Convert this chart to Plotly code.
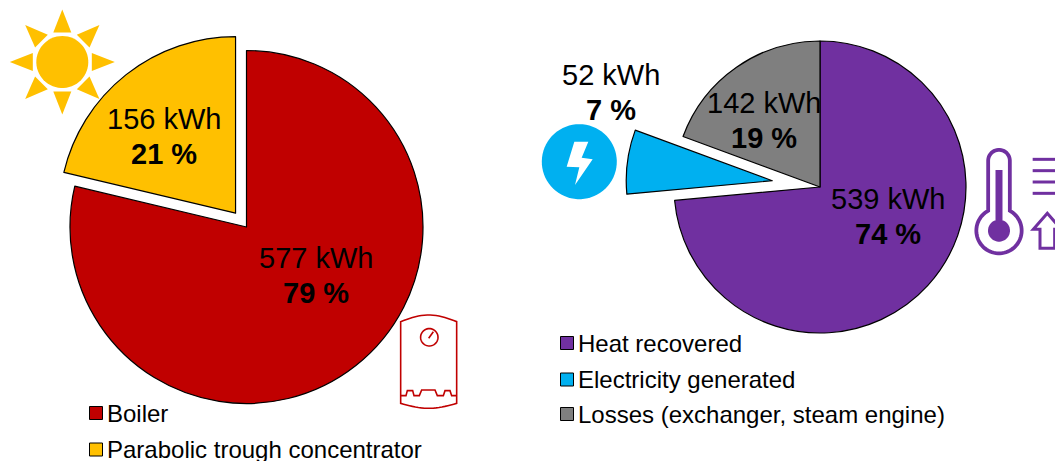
import numpy as np
import plotly.graph_objects as go

W, H = 1055, 461
FONT = "Liberation Sans, Arial, sans-serif"

# ---- data ----
left_categories = ["Boiler", "Parabolic trough concentrator"]
left_values = [577, 156]
left_colors = ["#C00000", "#FFC000"]
left_pull = [0, 0.1]

right_categories = ["Heat recovered", "Electricity generated", "Losses (exchanger, steam engine)"]
right_values = [539, 52, 142]
right_colors = ["#7030A0", "#00B0F0", "#7F7F7F"]

# ---- layout geometry (pixels) ----
LC, LR = (246.5, 227), 176.5
RC, RR = (820, 187), 146
BLUE_PULL = 0.33
CLEAR = "rgba(0,0,0,0)"


def dom(c, half):
    return dict(x=[(c[0] - half) / W, (c[0] + half) / W],
                y=[1 - (c[1] + half) / H, 1 - (c[1] - half) / H])


def px(x, y):
    return f"{x / W:.5f},{1 - y / H:.5f}"


def poly(pts, close=False):
    s = "M" + " L".join(px(x, y) for x, y in pts)
    return s + (" Z" if close else "")


def arc(cx, cy, r, a0, a1, n=40):
    t = np.radians(np.linspace(a0, a1, n))
    return [(cx + r * np.sin(a), cy - r * np.cos(a)) for a in t]


shapes = []


def fill(pts, color):
    shapes.append(dict(type="path", xref="paper", yref="paper", path=poly(pts, True),
                       fillcolor=color, line=dict(width=0), layer="above"))


def stroke(pts, color, w, close=False):
    shapes.append(dict(type="path", xref="paper", yref="paper", path=poly(pts, close),
                       line=dict(color=color, width=w), layer="above"))


fig = go.Figure()
half_left = LR * (1 + max(left_pull))
fig.add_trace(go.Pie(labels=left_categories, values=left_values, sort=False, direction="clockwise",
                     rotation=0, pull=left_pull, domain=dom(LC, half_left),
                     marker=dict(colors=left_colors, line=dict(color="black", width=1.2)),
                     textinfo="none", hoverinfo="skip", showlegend=False))

# right pie: exploded electricity slice is offset along its mid angle
fig.add_trace(go.Pie(labels=right_categories, values=right_values, sort=False, direction="clockwise",
                     rotation=0, domain=dom(RC, RR),
                     marker=dict(colors=[right_colors[0], CLEAR, right_colors[2]],
                                 line=dict(color="black", width=[1.2, 0, 1.2])),
                     textinfo="none", hoverinfo="skip", showlegend=False))
tot = sum(right_values)
mid = (right_values[0] + right_values[1] / 2) / tot * 2 * np.pi
off = BLUE_PULL * RR
BC = (RC[0] + off * np.sin(mid), RC[1] - off * np.cos(mid))
fig.add_trace(go.Pie(labels=right_categories, values=right_values, sort=False, direction="clockwise",
                     rotation=0, domain=dom(BC, RR),
                     marker=dict(colors=[CLEAR, right_colors[1], CLEAR],
                                 line=dict(color="black", width=[0, 1.2, 0])),
                     textinfo="none", hoverinfo="skip", showlegend=False))

# ---- data labels ----
annotations = []


def text(x, y, s, size=29, anchor="center"):
    annotations.append(dict(x=x / W, y=1 - y / H, xref="paper", yref="paper", text=s, showarrow=False,
                            xanchor=anchor, yanchor="middle", borderpad=0, borderwidth=0,
                            font=dict(family=FONT, size=size, color="black")))


def label(x, y, value, total):
    text(x, y, f"{value} kWh")
    text(x, y + 35, f"<b>{round(value / total * 100)} %</b>")


ltot = sum(left_values)
label(315.5, 258, left_values[0], ltot)
label(164, 119, left_values[1], ltot)
label(888, 199, right_values[0], tot)
label(611, 75, right_values[1], tot)
label(764, 103, right_values[2], tot)


# ---- custom legends ----
def legend(cats, colors, mx, tx, ys):
    for c, col, y in zip(cats, colors, ys):
        shapes.append(dict(type="rect", xref="paper", yref="paper", x0=(mx - 6.5) / W, x1=(mx + 6.5) / W,
                           y0=1 - (y + 6.5) / H, y1=1 - (y - 6.5) / H, fillcolor=col,
                           line=dict(color="black", width=1)))
        text(tx, y, c, size=24, anchor="left")


legend(left_categories, left_colors, 96, 107, [413, 449.5])
legend(right_categories, right_colors, 567, 578, [343, 379.5, 414])

# ---- sun icon ----
SUN = "#FFC000"
sc = (62.3, 62)
fill(arc(sc[0], sc[1], 26, 0, 360, 60), SUN)
for k in range(8):
    a = np.radians(45 * k)
    ux, uy = np.sin(a), -np.cos(a)
    vx, vy = -uy, ux
    fill([(sc[0] + 52.5 * ux, sc[1] + 52.5 * uy),
          (sc[0] + 29.5 * ux + 9 * vx, sc[1] + 29.5 * uy + 9 * vy),
          (sc[0] + 29.5 * ux - 9 * vx, sc[1] + 29.5 * uy - 9 * vy)], SUN)

# ---- boiler icon (points given in a local 3x frame) ----
RED = "#C00000"


def bo(p):
    return [(380 + x / 3, 300 + y / 3) for x, y in p]


top = [(62 + 168 * t, 65 - 20 * np.sin(np.pi * t)) for t in np.linspace(0, 1, 20)]
bot = [(230 - 168 * t, 310 + 15 * np.sin(np.pi * t)) for t in np.linspace(0, 1, 20)]
stroke(bo(top + bot), RED, 1.6, True)
stroke(arc(429.3, 337.3, 8.7, 0, 360, 50), RED, 1.6, True)
stroke(bo([(146, 115), (160, 95)]), RED, 1.6)
stroke(bo([(62, 287), (78, 287), (82, 272), (98, 272), (102, 287), (118, 287), (125, 270), (165, 270),
           (172, 287), (190, 287), (195, 272), (210, 272), (215, 287), (230, 287)]), RED, 1.6)

# ---- lightning icon ----
BLUE = "#00B0F0"
fill(arc(579.3, 161.7, 37.5, 0, 360, 70), BLUE)


def li(p):
    return [(530 + x / 3, 110 + y / 3) for x, y in p]


fill(li([(133, 95), (175, 95), (155, 143), (188, 148), (135, 225), (148, 172), (110, 170)]), "white")

# ---- thermometer icon ----
PUR = "#7030A0"


def th(p):
    return [(960 + x / 3, 140 + y / 3) for x, y in p]


tube = arc(117, 62, 32.5, -90, 90, 24)
alpha = np.degrees(np.arcsin(32.5 / 68))
bulb = arc(117, 272, 68, alpha, 360 - alpha, 60)
stroke(th(tube + bulb), PUR, 3.8, True)
stroke(th([(117, 90), (117, 240)]), PUR, 7)
fill(th(arc(117, 272, 33, 0, 360, 50)), PUR)
for yy in (58, 92, 126, 160):
    stroke(th([(218, yy), (290, yy)]), PUR, 3)
stroke(th([(262, 220), (220, 268), (240, 268), (240, 325), (284, 325), (284, 268), (304, 268)]), PUR, 3, True)

fig.update_layout(width=W, height=H, margin=dict(l=0, r=0, t=0, b=0), showlegend=False,
                  paper_bgcolor="white", plot_bgcolor="white", font=dict(family=FONT),
                  shapes=shapes, annotations=annotations)
fig.write_html("out.html", config={"displayModeBar": False},
               post_script="document.documentElement.style.overflow='hidden';document.body.style.margin='0';window.dispatchEvent(new Event('resize'));")
